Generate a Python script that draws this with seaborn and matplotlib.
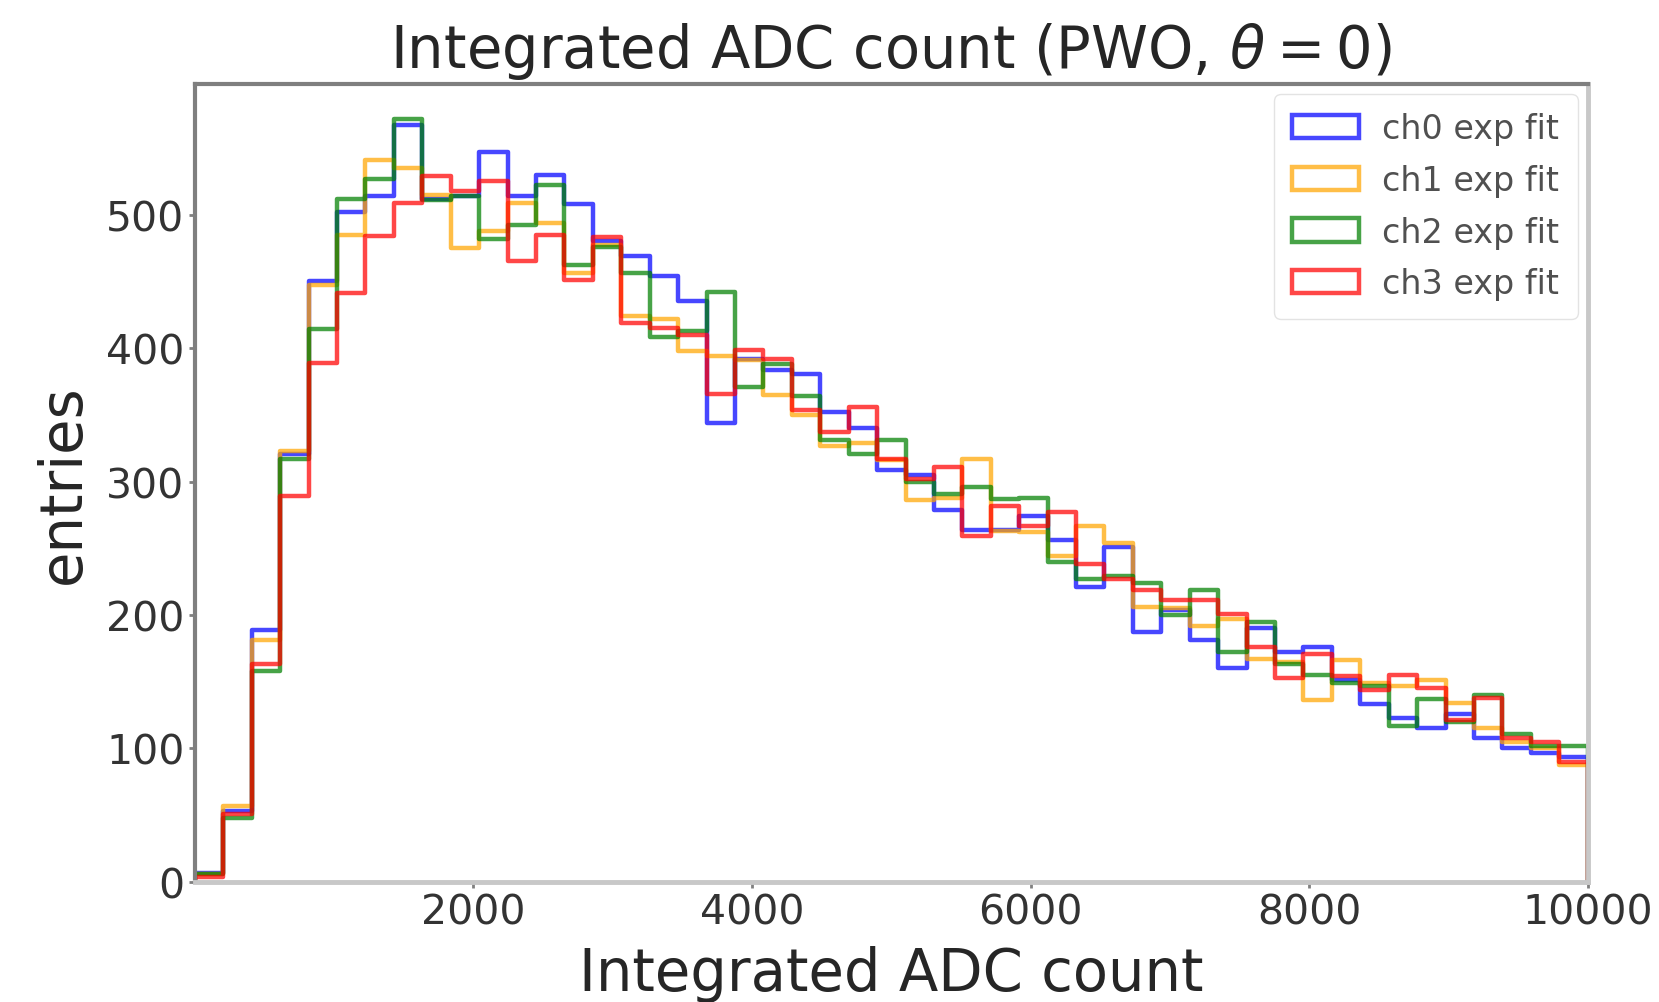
import numpy as np
import pandas as pd
import matplotlib
matplotlib.use("Agg")
import matplotlib.pyplot as plt
from matplotlib.patches import Patch
import seaborn as sns

# ---- data (49 bins, edges = linspace(0, 10000, 50)) ----
bin_edges = list(np.linspace(0, 10000, 50))
ch0 = [7, 53, 189, 321, 450, 502, 514, 567, 512, 514, 547, 514, 530, 508, 480, 469, 454, 435, 344, 392,
       384, 381, 352, 340, 309, 305, 279, 264, 264, 274, 256, 221, 251, 187, 204, 181, 160, 190, 172, 176,
       151, 133, 123, 115, 126, 108, 100, 97, 94]
ch1 = [6, 57, 181, 323, 447, 485, 541, 535, 515, 475, 488, 509, 494, 456, 477, 424, 422, 398, 394, 391,
       365, 350, 327, 329, 316, 286, 288, 317, 263, 262, 244, 267, 254, 206, 205, 192, 197, 167, 165, 136,
       166, 149, 147, 151, 134, 115, 105, 100, 88]
ch2 = [6, 48, 158, 317, 414, 512, 527, 572, 511, 514, 482, 492, 522, 462, 476, 456, 408, 413, 442, 371,
       388, 364, 331, 321, 331, 300, 291, 296, 287, 288, 240, 227, 229, 224, 200, 219, 172, 195, 163, 155,
       149, 147, 117, 137, 120, 140, 111, 102, 102]
ch3 = [4, 51, 163, 289, 389, 441, 484, 509, 529, 518, 525, 465, 485, 451, 483, 419, 415, 410, 366, 399,
       392, 354, 337, 356, 317, 302, 311, 259, 282, 267, 277, 238, 227, 219, 211, 211, 201, 176, 153, 171,
       154, 144, 155, 145, 121, 138, 108, 105, 90]
channels = ["ch0 exp fit", "ch1 exp fit", "ch2 exp fit", "ch3 exp fit"]
colors = ["blue", "orange", "green", "red"]
title = r"Integrated ADC count (PWO, $\theta = 0$)"
xlabel = "Integrated ADC count"
ylabel = "entries"
xticks = [2000, 4000, 6000, 8000, 10000]
yticks = [0, 100, 200, 300, 400, 500]

sns.set_style("white")
plt.rcParams["font.family"] = ["DejaVu Sans"]

fig = plt.figure(figsize=(16.59, 10.03), dpi=100)
ax = fig.add_axes([0.1175, 0.1197, 0.957 - 0.1175, 0.9153 - 0.1197])

centers = [0.5 * (a + b) for a, b in zip(bin_edges[:-1], bin_edges[1:])]
lw = 3.2
alpha = 0.72
handles = []
for counts, lab, col in zip([ch0, ch1, ch2, ch3], channels, colors):
    df = pd.DataFrame({"x": centers, "w": counts})
    sns.histplot(data=df, x="x", weights="w", bins=bin_edges, element="step", fill=False,
                 color=col, linewidth=lw, alpha=alpha, ax=ax)
    # closing drops of the step outline at the outer edges
    ax.vlines(bin_edges[-1], 0, counts[-1], color=col, linewidth=lw, alpha=alpha)
    ax.vlines(bin_edges[0], 0, counts[0], color=col, linewidth=lw, alpha=alpha)
    handles.append(Patch(facecolor="none", edgecolor=col, linewidth=lw, alpha=alpha, label=lab))

ax.set_xlim(0, 10000)
ax.set_ylim(0, 598)
ax.set_xticks(xticks)
ax.set_yticks(yticks)
ax.tick_params(axis="both", labelsize=29.5, colors="#808080", labelcolor="#333333",
               length=4, width=2, direction="out", bottom=True, left=True)
ax.set_title(title, fontsize=41.5, pad=12)
ax.set_xlabel(xlabel, fontsize=41.5, labelpad=9)
ax.set_ylabel(ylabel, fontsize=41.5, labelpad=10)

for side in ["left", "top"]:
    ax.spines[side].set_color("#7f7f7f")
    ax.spines[side].set_linewidth(3)
for side in ["bottom", "right"]:
    ax.spines[side].set_color("#c8c8c8")
    ax.spines[side].set_linewidth(3.5)

leg = ax.legend(handles=handles, loc="upper right", fontsize=24, frameon=True,
                borderaxespad=0.3, borderpad=0.55, labelspacing=0.56, handletextpad=0.7)
for t in leg.get_texts():
    t.set_color("#505050")
leg.get_frame().set_edgecolor("#dddddd")

fig.savefig("out.png", dpi=100)
